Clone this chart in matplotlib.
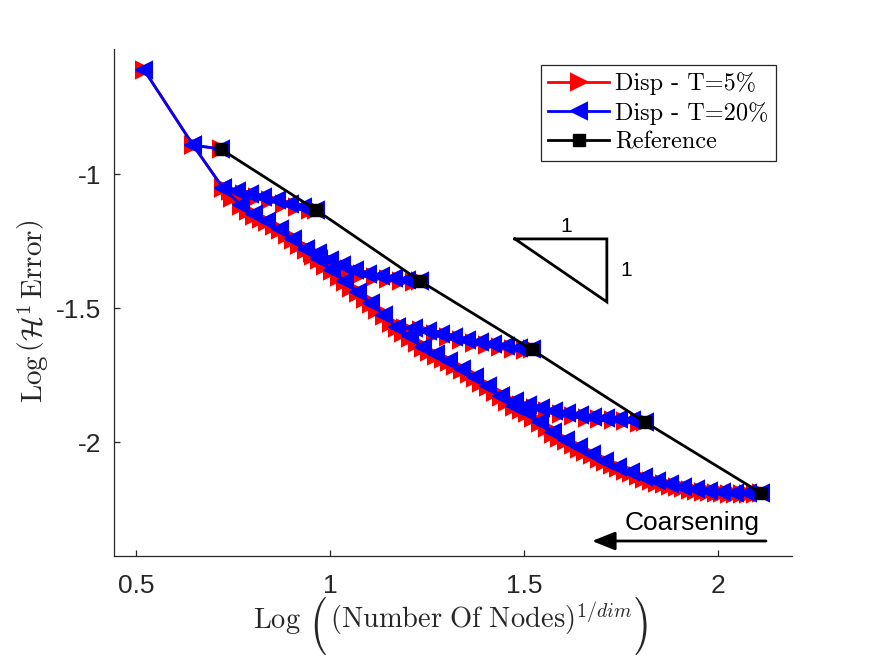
import matplotlib
matplotlib.use("Agg")
import matplotlib.pyplot as plt
from matplotlib.lines import Line2D
from matplotlib.textpath import TextPath
from matplotlib.patches import PathPatch
from matplotlib.font_manager import FontProperties
from matplotlib.transforms import Affine2D

plt.rcParams['mathtext.fontset'] = 'cm'
plt.rcParams['axes.unicode_minus'] = False

# ---------------- data ----------------
ref_x = [0.719, 0.964, 1.232, 1.519, 1.811, 2.110]
ref_y = [-0.906, -1.133, -1.398, -1.653, -1.924, -2.189]

# T = 20% (blue) coarsening branches
b6_x = [2.110, 2.077, 2.043, 2.010, 1.976, 1.943, 1.909, 1.876, 1.842, 1.809,
        1.775, 1.742, 1.708, 1.675, 1.641, 1.608, 1.574, 1.541, 1.507, 1.474,
        1.440, 1.407, 1.373, 1.340, 1.306, 1.273, 1.239, 1.206, 1.172, 1.139,
        1.105, 1.072, 1.038, 1.005, 0.971, 0.938, 0.904, 0.871, 0.838, 0.804,
        0.771, 0.724, 0.647, 0.521]
b6_y = [-2.189, -2.189, -2.189, -2.185, -2.182, -2.175, -2.167, -2.156, -2.145, -2.130,
        -2.111, -2.092, -2.070, -2.044, -2.018, -1.991, -1.962, -1.924, -1.887, -1.864,
        -1.827, -1.790, -1.756, -1.726, -1.697, -1.671, -1.644, -1.605, -1.570, -1.525,
        -1.480, -1.439, -1.398, -1.357, -1.316, -1.279, -1.241, -1.204, -1.174, -1.149,
        -1.115, -1.051, -0.891, -0.611]
b5_x = [1.811, 1.778, 1.744, 1.711, 1.677, 1.644, 1.610, 1.577, 1.543, 1.510, 1.476, 1.440]
b5_y = [-1.924, -1.917, -1.913, -1.909, -1.906, -1.898, -1.891, -1.883, -1.872, -1.861, -1.846, -1.827]
b4_x = [1.519, 1.487, 1.453, 1.420, 1.386, 1.353, 1.319, 1.286, 1.252, 1.216, 1.172]
b4_y = [-1.653, -1.648, -1.641, -1.633, -1.626, -1.618, -1.607, -1.596, -1.585, -1.574, -1.570]
b3_x = [1.232, 1.198, 1.165, 1.131, 1.098, 1.064, 1.031, 1.000, 0.969, 0.938]
b3_y = [-1.398, -1.394, -1.387, -1.379, -1.372, -1.357, -1.338, -1.320, -1.294, -1.279]
b2_x = [0.964, 0.930, 0.897, 0.863, 0.827, 0.794, 0.760, 0.724]
b2_y = [-1.133, -1.122, -1.111, -1.096, -1.085, -1.073, -1.062, -1.051]
b1_x = [0.719, 0.647]
b1_y = [-0.906, -0.891]

# T = 5% (red) coarsening branches (finer steps, slightly lower error)
r6_x = [2.110, 2.094, 2.077, 2.060, 2.043, 2.027, 2.010, 1.993, 1.976, 1.960,
        1.943, 1.926, 1.909, 1.893, 1.876, 1.859, 1.842, 1.826, 1.809, 1.792,
        1.775, 1.759, 1.742, 1.725, 1.708, 1.692, 1.675, 1.658, 1.641, 1.625,
        1.608, 1.591, 1.574, 1.558, 1.541, 1.524, 1.507, 1.491, 1.474, 1.457,
        1.440, 1.424, 1.407, 1.390, 1.373, 1.357, 1.340, 1.323, 1.306, 1.290,
        1.273, 1.256, 1.239, 1.223, 1.206, 1.189, 1.172, 1.156, 1.139, 1.122,
        1.105, 1.089, 1.072, 1.055, 1.038, 1.022, 1.005, 0.988, 0.971, 0.955,
        0.938, 0.921, 0.904, 0.888, 0.871, 0.855, 0.838, 0.821, 0.804, 0.788,
        0.771, 0.748, 0.724, 0.647, 0.521]
r6_y = [-2.189, -2.194, -2.194, -2.194, -2.194, -2.192, -2.190, -2.189, -2.187, -2.184,
        -2.180, -2.176, -2.172, -2.167, -2.161, -2.156, -2.150, -2.143, -2.135, -2.126,
        -2.116, -2.107, -2.097, -2.086, -2.075, -2.062, -2.049, -2.036, -2.023, -2.010,
        -1.996, -1.982, -1.967, -1.948, -1.929, -1.911, -1.892, -1.881, -1.869, -1.851,
        -1.832, -1.814, -1.795, -1.778, -1.761, -1.746, -1.731, -1.717, -1.702, -1.689,
        -1.676, -1.663, -1.649, -1.629, -1.610, -1.593, -1.575, -1.553, -1.530, -1.508,
        -1.485, -1.465, -1.444, -1.424, -1.403, -1.383, -1.362, -1.342, -1.321, -1.303,
        -1.284, -1.265, -1.246, -1.228, -1.209, -1.194, -1.179, -1.167, -1.154, -1.137,
        -1.120, -1.088, -1.051, -0.891, -0.611]
r5_x = [1.811, 1.795, 1.761, 1.728, 1.694, 1.661, 1.627, 1.594, 1.560, 1.527, 1.493, 1.458, 1.424]
r5_y = [-1.924, -1.927, -1.921, -1.917, -1.914, -1.908, -1.901, -1.893, -1.884, -1.873, -1.860, -1.843, -1.814]
r4_x = [1.519, 1.503, 1.470, 1.437, 1.403, 1.370, 1.336, 1.303, 1.269, 1.234, 1.194, 1.156]
r4_y = [-1.653, -1.657, -1.651, -1.643, -1.636, -1.628, -1.619, -1.608, -1.597, -1.582, -1.575, -1.553]
r3_x = [1.232, 1.215, 1.182, 1.148, 1.115, 1.081, 1.048, 1.016, 0.985, 0.954, 0.921]
r3_y = [-1.398, -1.402, -1.397, -1.389, -1.382, -1.371, -1.354, -1.335, -1.313, -1.293, -1.265]
r2_x = [0.964, 0.947, 0.914, 0.880, 0.845, 0.811, 0.777, 0.742, 0.724]
r2_y = [-1.133, -1.134, -1.123, -1.110, -1.097, -1.085, -1.074, -1.063, -1.051]
r1_x = [0.719, 0.647]
r1_y = [-0.906, -0.891]

# slope-1 triangle
tri_x = [1.476, 1.713, 1.713, 1.476]
tri_y = [-1.241, -1.241, -1.476, -1.241]

x_ticks = [0.5, 1, 1.5, 2]
x_tick_labels = ['0.5', '1', '1.5', '2']
y_ticks = [-2, -1.5, -1]
y_tick_labels = ['-2', '-1.5', '-1']

legend_labels = ['Disp - T=5%', 'Disp - T=20%', 'Reference']

# ---------------- figure ----------------
W, H = 875, 656
fig = plt.figure(figsize=(W / 100, H / 100), dpi=100)
ax = fig.add_axes([114 / W, 1 - 556 / H, (792 - 114) / W, (556 - 49) / H])

red_branches = [(r6_x, r6_y), (r5_x, r5_y), (r4_x, r4_y), (r3_x, r3_y), (r2_x, r2_y), (r1_x, r1_y)]
blue_branches = [(b6_x, b6_y), (b5_x, b5_y), (b4_x, b4_y), (b3_x, b3_y), (b2_x, b2_y), (b1_x, b1_y)]

lw = 2.0
ms = 11.5
mew = 1.5
RED = (1, 0, 0)
BLUE = (0, 0, 1)
for bx, by in red_branches:
    ax.plot(bx, by, '-', color=RED, lw=lw, marker='>', ms=ms,
            mfc=RED, mec=RED, mew=mew, zorder=2)
for bx, by in blue_branches:
    ax.plot(bx, by, '-', color=BLUE, lw=lw, marker='<', ms=ms,
            mfc=BLUE, mec=BLUE, mew=mew, zorder=3)
ax.plot(ref_x, ref_y, '-', color='k', lw=lw, marker='s', ms=8.3,
        mfc='k', mec='k', mew=1.0, zorder=4)

# slope triangle
ax.plot(tri_x, tri_y, '-', color='k', lw=2.0, zorder=4, solid_joinstyle='miter')
ax.text((tri_x[0] + tri_x[1]) / 2 + 0.015, tri_y[0] + 0.012, '1', ha='center', va='bottom',
        fontsize=15, family='Liberation Sans', color='k')
ax.text(tri_x[1] + 0.035, (tri_y[1] + tri_y[2]) / 2, '1', ha='left', va='center',
        fontsize=15, family='Liberation Sans', color='k')

ax.set_xlim(0.4433, 2.19)
ax.set_ylim(-2.424, -0.5325)
ax.set_xticks(x_ticks)
ax.set_xticklabels(x_tick_labels)
ax.set_yticks(y_ticks)
ax.set_yticklabels(y_tick_labels)

for s in ['top', 'right']:
    ax.spines[s].set_visible(False)
for s in ['left', 'bottom']:
    ax.spines[s].set_color('#262626')
    ax.spines[s].set_linewidth(0.9)

ax.tick_params(direction='in', length=4.5, width=0.9, colors='#262626',
               labelsize=19)
ax.tick_params(axis='x', pad=13)
ax.tick_params(axis='y', pad=9)
for lab in ax.get_xticklabels() + ax.get_yticklabels():
    lab.set_family('Liberation Sans')

LABEL_C = '#262626'
renderer = fig.canvas.get_renderer()


def big_paren(ch, x0, x1, y0, y1):
    """Draw a tall parenthesis glyph filling the pixel box (x0..x1, y0..y1; y from top)."""
    tp = TextPath((0, 0), ch, size=1, prop=FontProperties(family='cmr10'))
    ext = tp.get_extents()
    tr = (Affine2D().translate(-ext.x0, -ext.y0)
          .scale((x1 - x0) / ext.width, (y1 - y0) / ext.height)
          .translate(x0, H - y1))
    patch = PathPatch(tp, transform=tr, facecolor=LABEL_C, edgecolor='none')
    fig.add_artist(patch)


# x label: Log( (Number Of Nodes)^{1/dim} ) with tall outer parentheses
base_y = 628
t_log = fig.text(253 / W, 1 - base_y / H, r'$\mathrm{Log}$', fontsize=20.5,
                 ha='left', va='baseline', color=LABEL_C)
bb = t_log.get_window_extent(renderer)
lp0 = bb.x1 + 14
big_paren('(', lp0, lp0 + 11, 597, 655)
t_in = fig.text((lp0 + 15) / W, 1 - base_y / H,
                r'$\mathrm{(Number\ Of\ Nodes)}^{1/dim}$', fontsize=20.5,
                ha='left', va='baseline', color=LABEL_C)
bb2 = t_in.get_window_extent(renderer)
rp0 = bb2.x1 + 3
big_paren(')', rp0, rp0 + 11, 597, 655)

# y label
fig.text(33 / W, 1 - 311 / H,
         r'$\mathrm{Log}\,\left(\mathcal{H}^1\,\mathrm{Error}\right)$',
         ha='center', va='center', rotation=90, fontsize=21, color=LABEL_C)

# legend
handles = [
    Line2D([], [], color=RED, lw=lw, marker='>', ms=ms, mfc=RED, mec=RED, mew=mew),
    Line2D([], [], color=BLUE, lw=lw, marker='<', ms=ms, mfc=BLUE, mec=BLUE, mew=mew),
    Line2D([], [], color='k', lw=lw, marker='s', ms=8.3, mfc='k', mec='k'),
]
leg = ax.legend(handles, legend_labels, loc='upper right',
                bbox_to_anchor=(776 / W, 1 - 65 / H), bbox_transform=fig.transFigure,
                prop={'family': 'cmr10', 'size': 17.5}, numpoints=1,
                handlelength=2.5, handletextpad=0.25, labelspacing=0.27,
                borderpad=0.3, borderaxespad=0, fancybox=False, framealpha=1)
leg.get_frame().set_edgecolor('#262626')
leg.get_frame().set_linewidth(0.9)

# coarsening arrow
fig.text(692 / W, 1 - 523 / H, 'Coarsening', ha='center', va='center',
         fontsize=19, family='Liberation Sans', color='k')
ax.annotate('', xy=(592 / W, 1 - 541 / H), xycoords='figure fraction',
            xytext=(766 / W, 1 - 541 / H), textcoords='figure fraction',
            arrowprops=dict(arrowstyle='-|>,head_length=0.7,head_width=0.28',
                            lw=2.0, color='k', mutation_scale=20, shrinkA=0, shrinkB=0))

fig.savefig('out.png', dpi=100)
